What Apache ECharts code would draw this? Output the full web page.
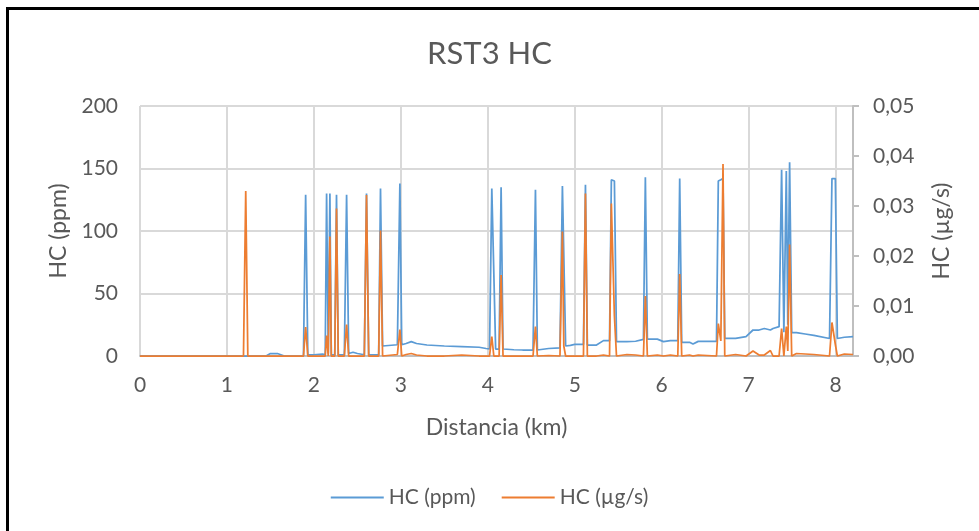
<!DOCTYPE html>
<html><head><meta charset="utf-8">
<script src="https://cdn.jsdelivr.net/npm/echarts@6/dist/echarts.min.js"></script>
<style>
html,body{margin:0;padding:0;background:#fff;overflow:hidden}
#c{width:979px;height:531px}
#frame{position:absolute;left:6px;top:7px;width:2000px;height:2000px;border:3px solid #000;pointer-events:none}
</style></head>
<body><div id="c"></div><div id="frame"></div>
<script>
const titleText = 'RST3 HC';
const seriesNames = ['HC (ppm)', 'HC (µg/s)'];
const distKm = [0.00,1.19,1.216,1.24,1.45,1.50,1.58,1.66,1.88,1.905,1.93,2.00,2.10,2.13,2.146,2.165,2.184,2.20,2.24,2.26,2.28,2.35,2.376,2.40,2.45,2.50,2.58,2.605,2.63,2.745,2.766,2.79,2.96,2.989,3.01,3.06,3.12,3.18,3.30,3.50,3.70,3.90,3.98,4.02,4.046,4.069,4.09,4.13,4.153,4.175,4.30,4.40,4.52,4.548,4.57,4.70,4.83,4.858,4.874,4.895,4.95,5.00,5.10,5.123,5.145,5.25,5.33,5.40,5.421,5.456,5.48,5.60,5.70,5.79,5.812,5.835,5.95,6.02,6.10,6.185,6.207,6.23,6.32,6.36,6.42,6.63,6.651,6.68,6.705,6.725,6.85,6.97,7.05,7.12,7.18,7.25,7.28,7.35,7.379,7.405,7.433,7.45,7.471,7.495,7.55,7.65,7.75,7.93,7.958,7.997,8.02,8.10,8.20];
const hcPpm = [0,0,0,0,0,2,2,0,0,129,1,1,1.5,1,130,2,130,1,1,129,1,1,129,2,3,2,1,130,1,1,134,8,9,138,9,10,11.5,10,8.8,8,7.5,7,6,5.6,134,135,5.6,5.6,135,5.6,5,4.8,4.8,133,4.8,6,6.5,136,136,8,8.5,9.3,9.3,137,8.8,8.8,12.3,12.3,141,140,11.5,11.5,11.8,13.3,143,13.5,13.5,11.5,12.3,12.3,142,11,11,9.6,11.7,11.7,140,141,142,14.1,14.1,15.5,20.8,20.8,22,20.8,22,23.5,149,19,148,25,155,18.7,18.7,17.6,16.5,14,142,142,14,15,15.5];
const hcUgs = [0,0,0.033,0,0,0,0,0,0,0.0058,0,0,0,0,0.0041,0,0.0239,0,0,0.0295,0,0,0.0063,0,0,0,0,0.0322,0,0,0.0251,0,0.0003,0.0053,0,0.0003,0.0005,0.0002,0,0,0.0002,0,0,0,0.0039,0,0,0,0.0162,0,0,0,0,0.0059,0,0.0001,0,0.0249,0.002,0,0,0,0,0.0325,0,0,0.0002,0,0.0305,0.008,0,0.0003,0.0002,0,0.012,0,0.0002,0,0.0002,0,0.0164,0,0.0002,0,0.0002,0,0.0065,0.003,0.0384,0,0.0003,0,0.001,0.0002,0.0002,0.0011,0,0,0.0055,0,0.0059,0.001,0.0223,0,0.0005,0.0004,0.0003,0,0.0067,0.0023,0,0.0004,0.0003];

const FONT = 'Lato, "Open Sans", sans-serif';
const TXT = '#595959';
const chart = echarts.init(document.getElementById('c'), null, {renderer:'canvas'});
chart.setOption({
  animation:false,
  backgroundColor:'#fff',
  title:{text:titleText,left:'center',top:33,textStyle:{fontFamily:FONT,fontSize:31,fontWeight:'normal',color:TXT}},
  legend:{bottom:18,left:'center',itemWidth:53,itemHeight:2,itemGap:26,icon:'rect',
    textStyle:{fontFamily:FONT,fontSize:21,color:TXT},data:seriesNames},
  grid:{left:140,right:126,top:106,bottom:175,containLabel:false},
  xAxis:{type:'value',min:0,max:8.2,interval:1,
    name:'Distancia (km)',nameLocation:'middle',nameGap:60,
    nameTextStyle:{fontFamily:FONT,fontSize:23,color:TXT},
    axisLine:{show:true,lineStyle:{color:'#bfbfbf',width:2}},axisTick:{show:false},
    axisLabel:{margin:19,fontFamily:FONT,fontSize:21,color:TXT,
      formatter:function(v){return Math.abs(v-Math.round(v))<1e-6?String(Math.round(v)):'';}},
    splitLine:{show:true,lineStyle:{color:'#d9d9d9',width:2}}},
  yAxis:[{type:'value',min:0,max:200,interval:50,
      name:'HC (ppm)',nameLocation:'middle',nameGap:67,
      nameTextStyle:{fontFamily:FONT,fontSize:23,color:TXT},
      axisLine:{show:false},axisTick:{show:false},
      axisLabel:{margin:22,fontFamily:FONT,fontSize:21,color:TXT},
      splitLine:{show:true,lineStyle:{color:'#d9d9d9',width:2}}},
    {type:'value',min:0,max:0.05,interval:0.01,position:'right',
      name:'HC (µg/s)',nameLocation:'middle',nameGap:77,
      nameTextStyle:{fontFamily:FONT,fontSize:23,color:TXT},
      axisLine:{show:true,lineStyle:{color:'#bfbfbf',width:2}},
      axisTick:{show:true,length:6,lineStyle:{color:'#bfbfbf',width:2}},
      axisLabel:{margin:20,fontFamily:FONT,fontSize:21,color:TXT,
        formatter:function(v){return v.toFixed(2).replace('.',',');}},
      splitLine:{show:false}}],
  series:[
    {name:seriesNames[0],type:'line',yAxisIndex:0,showSymbol:false,symbol:'none',
      lineStyle:{color:'#5b9bd5',width:1.75},itemStyle:{color:'#5b9bd5'},
      data:distKm.map((d,i)=>[d,hcPpm[i]])},
    {name:seriesNames[1],type:'line',yAxisIndex:1,showSymbol:false,symbol:'none',
      lineStyle:{color:'#ed7d31',width:1.75},itemStyle:{color:'#ed7d31'},
      data:distKm.map((d,i)=>[d,hcUgs[i]])}
  ]
});
</script></body></html>
